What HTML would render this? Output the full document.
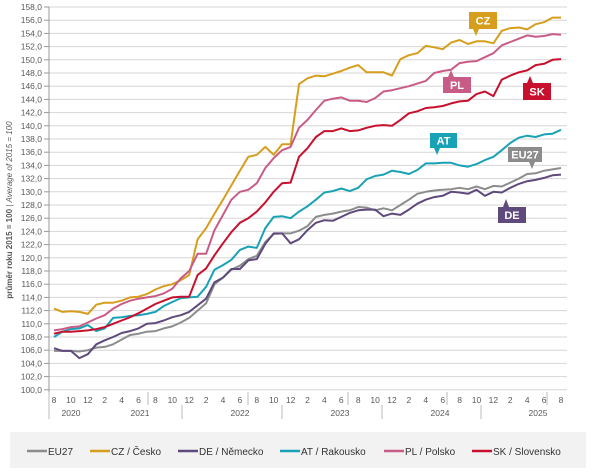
<!DOCTYPE html>
<html><head><meta charset="utf-8"><style>
body{margin:0;background:#fff;width:601px;height:471px;overflow:hidden;font-family:"Liberation Sans",sans-serif}
svg text{font-family:"Liberation Sans",sans-serif}
</style></head><body>
<svg id="s" width="601" height="471" xmlns="http://www.w3.org/2000/svg"></svg>
<script>
const s=document.getElementById('s');
const X=i=>54+i*8.45, Y=v=>7+(158-v)*6.6;
let h='';
for(let v=100;v<=158;v+=2){const y=Y(v);h+=`<line x1="49" x2="567" y1="${y}" y2="${y}" stroke="#d6d6d6" stroke-width="1"/>`;
h+=`<line x1="44" x2="49" y1="${y}" y2="${y}" stroke="#999"/>`;
h+=`<text x="42" y="${y+3}" font-size="8.5" fill="#595959" text-anchor="end">${v},0</text>`;}
h+=`<line x1="49" x2="49" y1="7" y2="418" stroke="#999"/>`;
const labs=[8,10,12,2,4,6];
for(let i=0;i<=60;i+=2){h+=`<text x="${X(i)}" y="403" font-size="8.5" fill="#595959" text-anchor="middle">${labs[(i/2)%6]}</text>`;}
[49,148,248,348,447,547].forEach(x=>h+=`<line x1="${x}" x2="${x}" y1="392" y2="405" stroke="#bbb"/>`);
[49,182,282,382,481].forEach(x=>h+=`<line x1="${x}" x2="${x}" y1="405" y2="419" stroke="#bbb"/>`);
[[71,2020],[140,2021],[240,2022],[340,2023],[440,2024],[538,2025]].forEach(a=>h+=`<text x="${a[0]}" y="416" font-size="8.5" fill="#595959" text-anchor="middle">${a[1]}</text>`);
h+=`<text transform="translate(12,210) rotate(-90)" font-size="8" fill="#595959" text-anchor="middle"><tspan font-weight="bold">průměr roku 2015 = 100</tspan> | <tspan font-style="italic">Average of 2015 = 100</tspan></text>`;
const D={
eu:[105.9,105.9,105.9,105.8,106,106.4,106.5,106.9,107.6,108.3,108.5,108.8,108.9,109.3,109.6,110.2,110.9,112,113.1,116,117,118.2,118.8,119.8,120.3,122.4,123.6,123.7,123.7,124.1,124.8,126.2,126.5,126.7,127,127.2,127.7,127.6,127.2,127.5,127.2,128,128.8,129.7,130,130.2,130.3,130.4,130.6,130.4,130.8,130.4,130.9,130.8,131.4,132,132.7,132.8,133.2,133.4,133.6],
de:[106.3,105.9,105.9,104.8,105.4,106.9,107.5,108,108.6,108.9,109.3,110,110.1,110.5,111,111.3,111.8,112.8,113.8,116.3,117,118.3,118.3,119.6,119.8,122.1,123.7,123.7,122.2,122.8,124.2,125.3,125.7,125.6,126.2,126.8,127.2,127.3,127.3,126.3,126.7,126.5,127.3,128.2,128.8,129.2,129.4,130,129.9,129.7,130.3,129.4,130,129.9,130.6,131.2,131.6,131.8,132.1,132.5,132.6],
at:[108,108.8,109.2,109.3,109.8,108.9,109.3,110.9,111,111.2,111.3,111.5,111.8,112.7,113.3,113.9,114,114.1,115.6,118.2,118.9,119.7,121.2,121.7,121.5,124.5,126.2,126.3,126,127,127.8,128.8,129.9,130.1,130.5,130.1,130.6,131.9,132.4,132.6,133.2,133,132.7,133.3,134.3,134.3,134.4,134.4,134,133.8,134.2,134.8,135.3,136.3,137.4,138.2,138.5,138.3,138.7,138.8,139.4],
sk:[108.5,108.8,108.8,108.9,109,109.2,109.5,110,110.5,111,111.6,112.3,113,113.5,114,114.1,114.1,117.4,118.4,120.4,122.2,123.9,125.3,126,127,128.4,130,131.3,131.4,135.3,136.6,138.3,139.2,139.2,139.6,139.2,139.3,139.7,140,140.1,140,140.9,141.9,142.2,142.7,142.8,143,143.4,143.7,143.8,144.8,145.2,144.5,147,147.6,148.1,148.4,149.2,149.4,150,150.1],
pl:[109,109.2,109.5,109.6,110.2,110.8,111.3,112.3,113,113.5,113.8,114,114.2,114.6,115.3,116.9,118,120.6,120.6,124.2,126.5,128.8,130,130.3,131.3,133.6,135.1,136.3,136.8,139.7,140.9,142.4,143.8,144.1,144.3,143.8,143.8,143.6,144.2,145.2,145.4,145.7,146,146.4,146.8,148,148.3,148.5,149.5,149.7,149.8,150.4,151,152.2,152.7,153.2,153.7,153.5,153.6,153.9,153.8],
cz:[112.3,111.8,111.9,111.8,111.5,112.9,113.2,113.2,113.5,114,114.1,114.5,115.2,115.7,116,116.6,117.4,122.8,124.5,126.7,128.8,131,133.2,135.3,135.6,136.8,135.6,137.2,137.2,146.3,147.2,147.6,147.5,147.9,148.3,148.8,149.2,148.1,148.1,148.1,147.6,150.1,150.7,151,152.1,151.9,151.6,152.6,153,152.4,152.8,152.8,152.5,154.4,154.8,154.9,154.6,155.4,155.7,156.4,156.4]
};
const C={eu:'#8c8c8c',cz:'#d69e1c',de:'#5e4a7c',at:'#19a2b6',pl:'#c85c87',sk:'#c8102e'};
['eu','cz','de','at','pl','sk'].forEach(k=>{h+=`<polyline fill="none" stroke="${C[k]}" stroke-width="2" stroke-linejoin="round" points="${D[k].map((v,i)=>X(i).toFixed(1)+','+Y(v).toFixed(1)).join(' ')}"/>`;});
function call(x1,y1,x2,y2,px,py,col,t){const up=py<y1;const bx=px;
h+=`<rect x="${x1}" y="${y1}" width="${x2-x1}" height="${y2-y1}" fill="${col}"/>`;
if(up)h+=`<polygon points="${bx-3},${y1} ${bx+3},${y1} ${bx},${py}" fill="${col}"/>`;else h+=`<polygon points="${bx-3},${y2} ${bx+3},${y2} ${bx},${py}" fill="${col}"/>`;
h+=`<text x="${(x1+x2)/2}" y="${(y1+y2)/2+4}" font-size="11" font-weight="bold" fill="#fff" text-anchor="middle">${t}</text>`;}
call(469,12,497,29,476,36,C.cz,'CZ');
call(443,77,471,93,451,70,C.pl,'PL');
call(523,83,551,100,530,76,C.sk,'SK');
call(430,133,457,148,437,155,C.at,'AT');
call(508,147,542,162,532,169,C.eu,'EU27');
call(498,207,526,223,506,199,C.de,'DE');
h+=`<rect x="10" y="432" width="576" height="36" fill="#f2f2f2"/>`;
[[27,'EU27',C.eu],[90,'CZ / Česko',C.cz],[178,'DE / Německo',C.de],[280,'AT / Rakousko',C.at],[384,'PL / Polsko',C.pl],[472,'SK / Slovensko',C.sk]].forEach(a=>{
h+=`<line x1="${a[0]}" x2="${a[0]+20}" y1="451" y2="451" stroke="${a[2]}" stroke-width="2.5"/><text x="${a[0]+21}" y="455" font-size="10" fill="#333">${a[1]}</text>`;});
s.innerHTML=h;
</script>
</body></html>
